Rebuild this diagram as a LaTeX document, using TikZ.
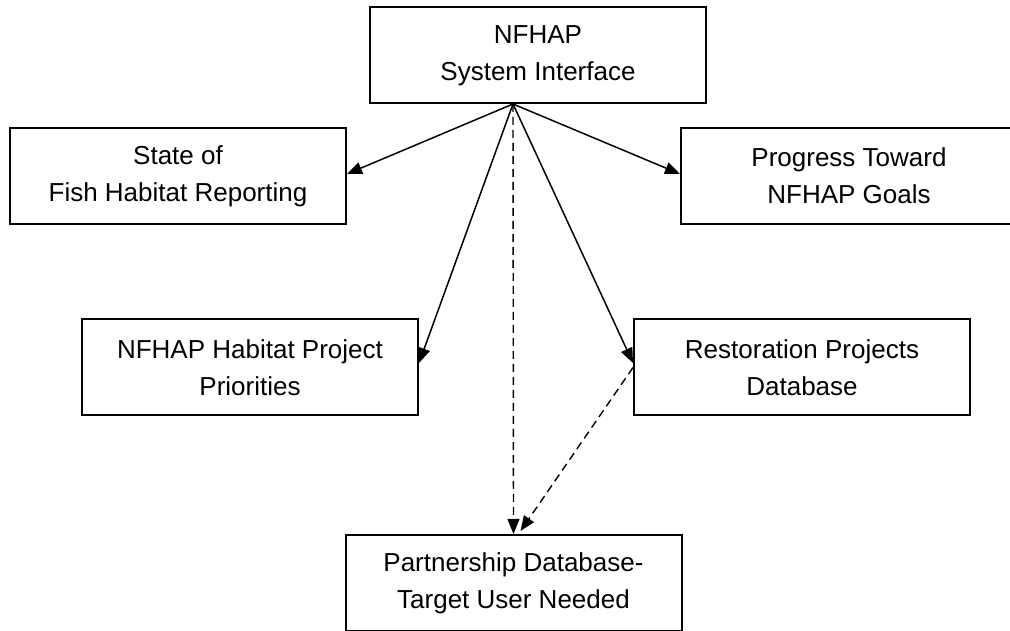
\documentclass[tikz,border=0pt]{standalone}
\usepackage{fontspec}
\setmainfont{Liberation Sans}
\usetikzlibrary{arrows.meta}
\begin{document}
\begin{tikzpicture}[x=1pt,y=1pt,
  box/.style={draw=black, line width=2pt, minimum width=336pt, minimum height=96pt,
    inner sep=0pt, align=center, font=\fontsize{26}{37}\selectfont},
  conn/.style={line width=1.5pt, -{Triangle[length=15pt,width=12pt]}},
  dconn/.style={conn, line width=1.4pt, dash pattern=on 8pt off 5pt}]
\useasboundingbox (0,0) rectangle (1010,631);
\node[box] (top) at (538,575.5) {NFHAP\\System Interface};
\node[box] (state) at (178,455) {State of\\Fish Habitat Reporting};
\node[box] (prog) at (849,455) {Progress Toward\\NFHAP Goals};
\node[box] (hab) at (250,263.5) {NFHAP Habitat Project\\Priorities};
\node[box] (rest) at (802,263.5) {Restoration Projects\\Database};
\node[box] (part) at (513.5,48) {Partnership Database-\\Target User Needed};
\coordinate (src) at (513,527);
\draw[conn] (src) -- ([yshift=2pt]state.east);
\draw[conn] (src) -- ([yshift=2pt]prog.west);
\draw[conn] (src) -- ([yshift=4.5pt]hab.east);
\draw[conn] (src) -- ([yshift=4.5pt]rest.west);
\draw[dconn] (src) -- (part.north);
\draw[dconn] (rest.west) -- ([xshift=7pt,yshift=3pt]part.north);
\end{tikzpicture}
\end{document}
